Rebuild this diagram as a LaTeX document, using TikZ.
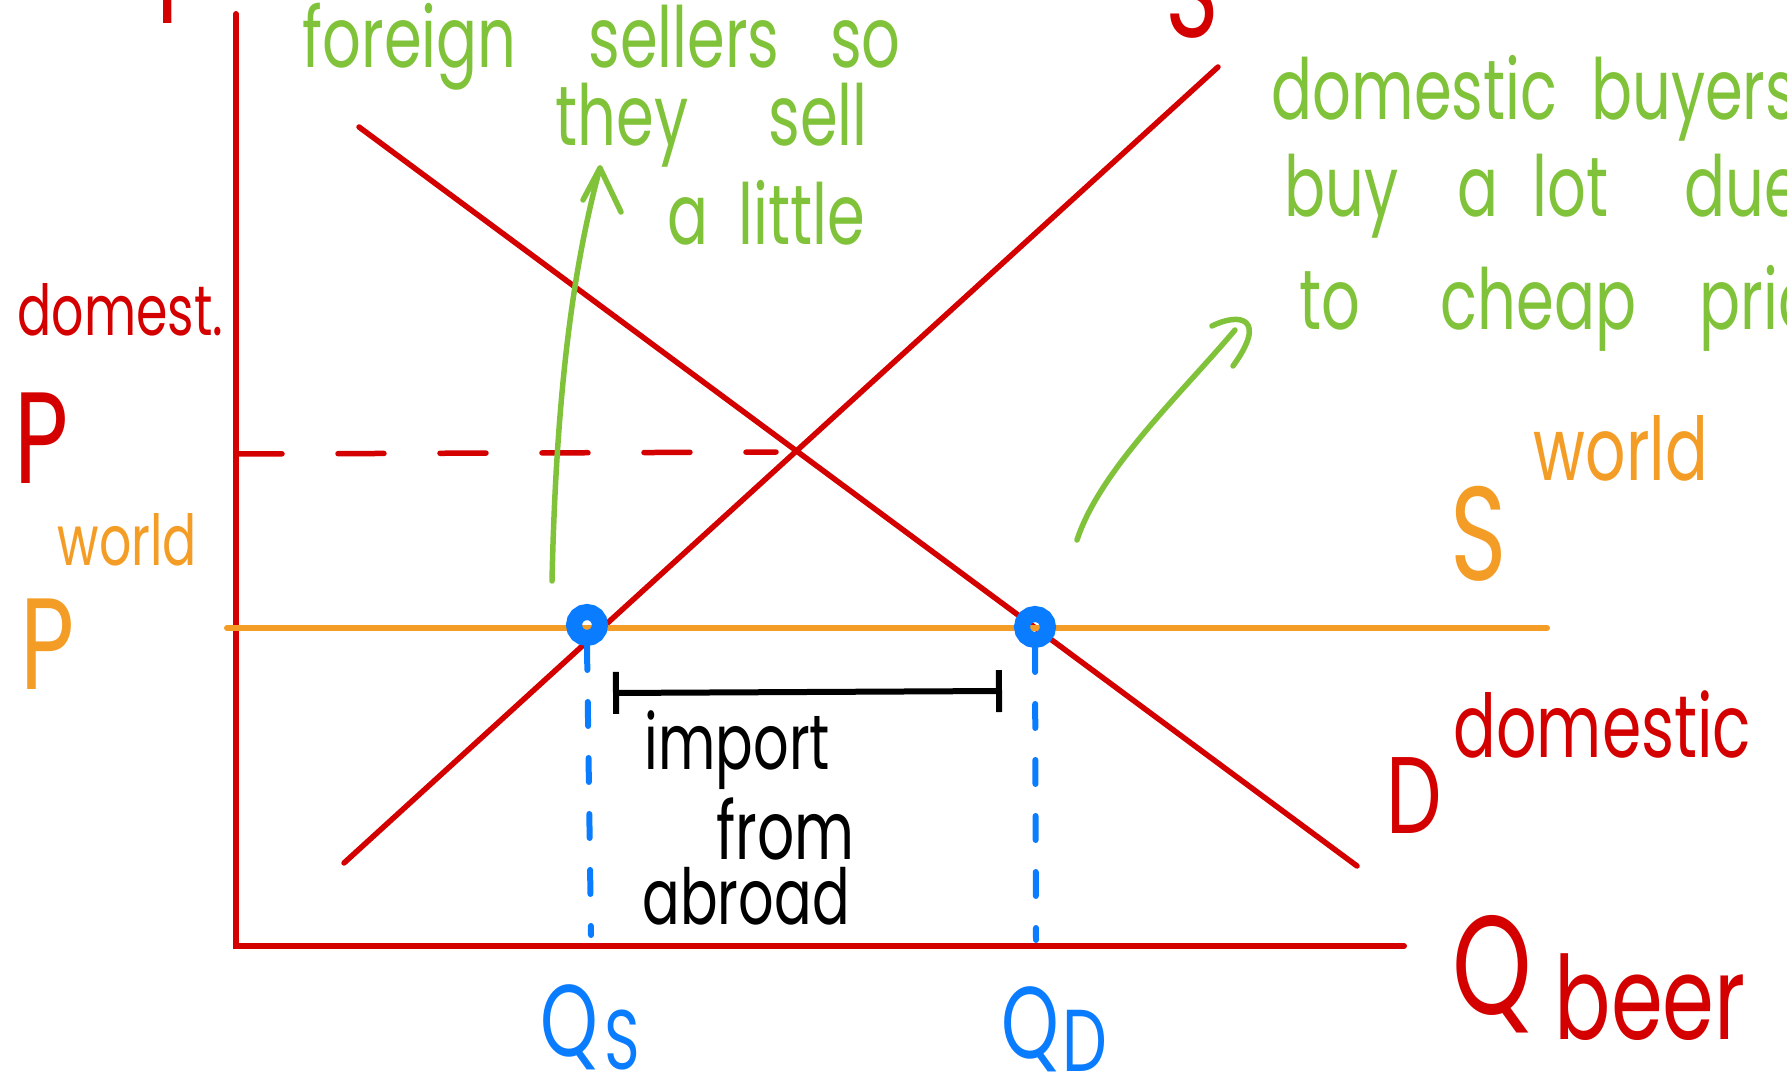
\documentclass[tikz,border=0pt]{standalone}
\usepackage{fontspec}
\newfontfamily\hand[FakeStretch=0.72]{Poppins}
\usetikzlibrary{arrows.meta}
\definecolor{myred}{RGB}{212,0,0}
\definecolor{mygreen}{RGB}{128,195,58}
\definecolor{myorange}{RGB}{244,157,38}
\definecolor{myblue}{RGB}{10,124,255}
\newcommand\gap[1]{\hspace{#1em}}
\begin{document}
\begin{tikzpicture}[x=0.1mm,y=-0.1mm,
  axis/.style={draw=myred, line width=0.6mm, line cap=round},
  curve/.style={draw=myred, line width=0.55mm, line cap=round},
  wline/.style={draw=myorange, line width=0.6mm, line cap=round},
  rdash/.style={draw=myred, line width=0.55mm, line cap=round, dash pattern=on 4.6mm off 5.6mm},
  bdash/.style={draw=myblue, line width=0.6mm, line cap=round, dash pattern=on 2.4mm off 3.2mm},
  gline/.style={draw=mygreen, line width=0.55mm, line cap=round, line join=round},
  dot/.style={circle, draw=myblue, line width=1.6mm, minimum size=2.6mm, inner sep=0pt},
  txt/.style={inner sep=0pt, anchor=base west},
  gtxt/.style={txt, text=mygreen, font=\hand\fontsize{24}{28}\selectfont},
  btxt/.style={txt, text=black, font=\hand\fontsize{22}{26}\selectfont},
]
\useasboundingbox (0,0) rectangle (1787,1082);
\clip (0,0) rectangle (1787,1082);

% axes
\coordinate (ytop) at (236,14);
\coordinate (origin) at (236,946);
\coordinate (xend) at (1404,946);
\draw[axis] (ytop) -- (origin) -- (xend);

% supply and demand
\coordinate (s1) at (344,863);
\coordinate (s2) at (1218,67);
\coordinate (d1) at (359,127);
\coordinate (d2) at (1357,866);
\draw[curve] (s1) -- (s2);
\draw[curve] (d1) -- (d2);

% equilibrium dashed
\coordinate (eq) at (796,452);
\coordinate (pd) at (236,454);
\draw[rdash, shorten >=2mm] (pd) -- (eq);

% world price line
\coordinate (w1) at (227,628);
\coordinate (w2) at (1547,628);
\draw[wline] (w1) -- (w2);

% quantity dots and dashed verticals
\node[dot] (qsdot) at (587,625) {};
\node[dot] (qddot) at (1035,627) {};
\coordinate (qsbot) at (591,935);
\coordinate (qdbot) at (1036,940);
\draw[bdash] (qsdot.south) -- (qsbot);
\draw[bdash] (qddot.south) -- (qdbot);

% import bracket
\coordinate (bl) at (613,693);
\coordinate (br) at (1002,691);
\draw[line width=0.6mm, {Bar[width=4.2mm]}-{Bar[width=4.2mm]}] (bl) -- (br);

% green arrows
\coordinate (ga1s) at (552,581);
\coordinate (ga1e) at (600,168);
\draw[gline] (ga1s) .. controls (556,400) and (572,270) .. (ga1e);
\draw[gline] (583,200) -- (ga1e) -- (621,212);
\coordinate (ga2s) at (1077,540);
\coordinate (ga2e) at (1235,330);
\draw[gline] (ga2s) .. controls (1100,470) and (1180,395) .. (ga2e);
\draw[gline] (1212,326) .. controls (1240,312) and (1268,318) .. (1233,366);

% axis labels
\node[txt, text=myred, font=\hand\fontsize{36}{40}\selectfont] (ptop) at (156,24) {P};
\node[txt, text=myred, font=\hand\fontsize{36}{40}\selectfont, anchor=base] (stop) at (1192,38) {S};
\node[txt, text=myred, font=\hand\fontsize{20}{24}\selectfont] (domlab) at (17,336) {domest.};
\node[txt, text=myred, font=\hand\fontsize{37}{40}\selectfont] (pdom) at (14,484) {P};
\node[txt, text=myorange, font=\hand\fontsize{20}{24}\selectfont] (worldl) at (57,566) {world};
\node[txt, text=myorange, font=\hand\fontsize{37}{40}\selectfont] (pworld) at (20,690) {P};

\node[txt, text=myorange, font=\hand\fontsize{38}{40}\selectfont] (sw) at (1450,581) {S};
\node[txt, text=myorange, font=\hand\fontsize{25}{30}\selectfont] (swsup) at (1533,481) {world};
\node[txt, text=myred, font=\hand\fontsize{31}{34}\selectfont] (dd) at (1386,834) {D};
\node[txt, text=myred, font=\hand\fontsize{25}{30}\selectfont] (ddsup) at (1453,758) {domestic};

\node[txt, text=myred, font=\hand\fontsize{40}{44}\selectfont] (qb) at (1452,1015) {Q};
\node[txt, text=myred, font=\hand\fontsize{33}{36}\selectfont] (qbsub) at (1554,1039) {beer};

\node[txt, text=myblue, font=\hand\fontsize{29}{34}\selectfont] (qs) at (540,1056) {Q};
\node[txt, text=myblue, font=\hand\fontsize{24}{28}\selectfont] (qssub) at (604,1070) {S};
\node[txt, text=myblue, font=\hand\fontsize{29}{34}\selectfont] (qd) at (1001,1058) {Q};
\node[txt, text=myblue, font=\hand\fontsize{25}{28}\selectfont] (qdsub) at (1062,1071) {D};

% import text
\node[btxt] (imp1) at (644,770) {import};
\node[btxt, font=\hand\fontsize{23}{26}\selectfont] (imp2) at (716,860) {from};
\node[btxt] (imp3) at (642,925) {abroad};

% green notes
\node[gtxt] (f1) at (302,68) {foreign\gap{0.85}sellers\gap{0.6}so};
\node[gtxt] (f2) at (555,146) {they\gap{0.95}sell};
\node[gtxt] (f3) at (667,245) {a\gap{0.35}little};
\node[gtxt] (b1) at (1271,120) {domestic\gap{0.4}buyers};
\node[gtxt] (b2) at (1284,217) {buy\gap{0.7}a\gap{0.4}lot\gap{0.9}due};
\node[gtxt] (b3) at (1299,330) {to\gap{0.95}cheap\gap{0.75}price};
\end{tikzpicture}
\end{document}
